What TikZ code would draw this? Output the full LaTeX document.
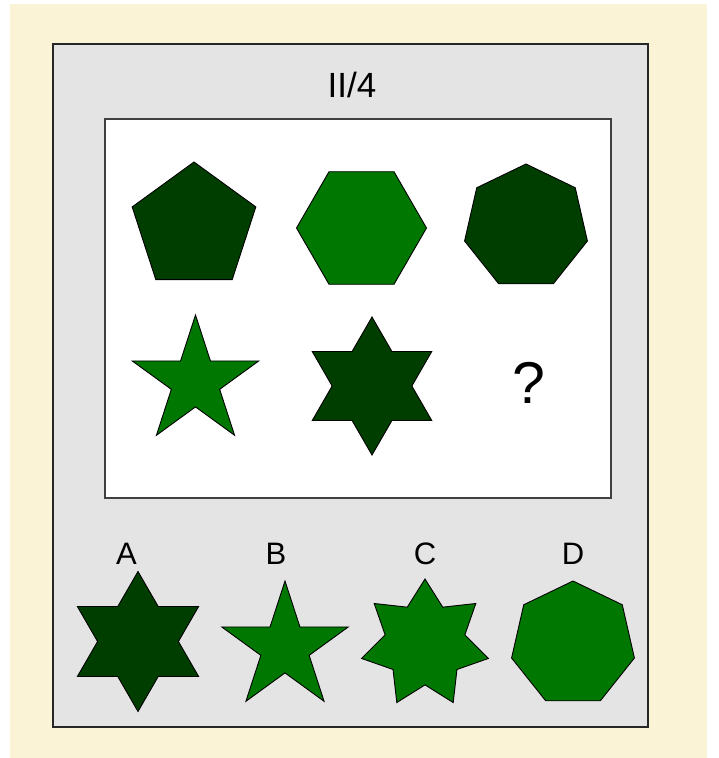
\documentclass[tikz,border=0pt]{standalone}
\usepackage{fontspec}
\setmainfont{Liberation Sans}
\usepackage{tikz}
\usetikzlibrary{shapes.geometric}

\definecolor{paper}{RGB}{250,243,214}
\definecolor{panelgray}{RGB}{228,228,228}
\definecolor{darkgreen}{RGB}{0,62,0}
\definecolor{lightgreen}{RGB}{0,119,0}

\begin{document}
\begin{tikzpicture}[x=1pt, y=-1pt,
  every node/.style={align=center, inner sep=0pt, outer sep=0pt},
  figure/.style={draw=black, line width=0.9pt},
  dark/.style={figure, fill=darkgreen},
  light/.style={figure, fill=lightgreen},
  polysides/.style={regular polygon, regular polygon sides=#1},
  starpoints/.style={star, star points=#1},
  label/.style={anchor=base, font=\fontsize{31}{31}\selectfont}]

% Background
\useasboundingbox (0,0) rectangle (719,758);
\fill[white] (0,0) rectangle (719,758);
\fill[paper] (10,4) rectangle (707,758);

% Panels
\node (panel) [draw=black!85, line width=1.6pt, fill=panelgray, minimum width=595pt, minimum height=683pt] at (350.5,385.5) {};
\node (board) [draw=black!75, line width=1.8pt, fill=white, minimum width=506pt, minimum height=379pt] at (358,308.5) {};
\node (title) [anchor=base, font=\fontsize{35}{35}\selectfont] at (352,97) {II/4};

% Top row
\node (pentagon) [dark, polysides=5, minimum size=130pt] at (194,227) {};
\node (hexagon) [light, polysides=6, minimum size=130pt] at (361.5,228) {};
\node (heptagon) [dark, polysides=7, minimum size=126pt] at (526,227) {};

% Middle row
\node (fivestar) [light, starpoints=5, star point ratio=2.618, minimum size=133pt] at (195.5,381.5) {};
\node (sixstar) [dark, starpoints=6, star point ratio=1.732, minimum size=138pt] at (372,386) {};
\node (missing) [anchor=base, font=\fontsize{59}{59}\selectfont] at (529,403) {?};

% Answers
\node (labelA) [label] at (126.5,564) {A};
\node (labelB) [label] at (276,564) {B};
\node (labelC) [label] at (425,564) {C};
\node (labelD) [label] at (573,564) {D};

\node (answerA) [dark, starpoints=6, star point ratio=1.732, minimum size=140pt] at (138,641.5) {};
\node (answerB) [light, starpoints=5, star point ratio=2.618, minimum size=133pt] at (285,647.5) {};
\node (answerC) [light, starpoints=7, star point ratio=1.59, minimum size=130pt] at (425,644) {};
\node (answerD) [light, polysides=7, minimum size=126pt] at (573,644) {};

\end{tikzpicture}
\end{document}
